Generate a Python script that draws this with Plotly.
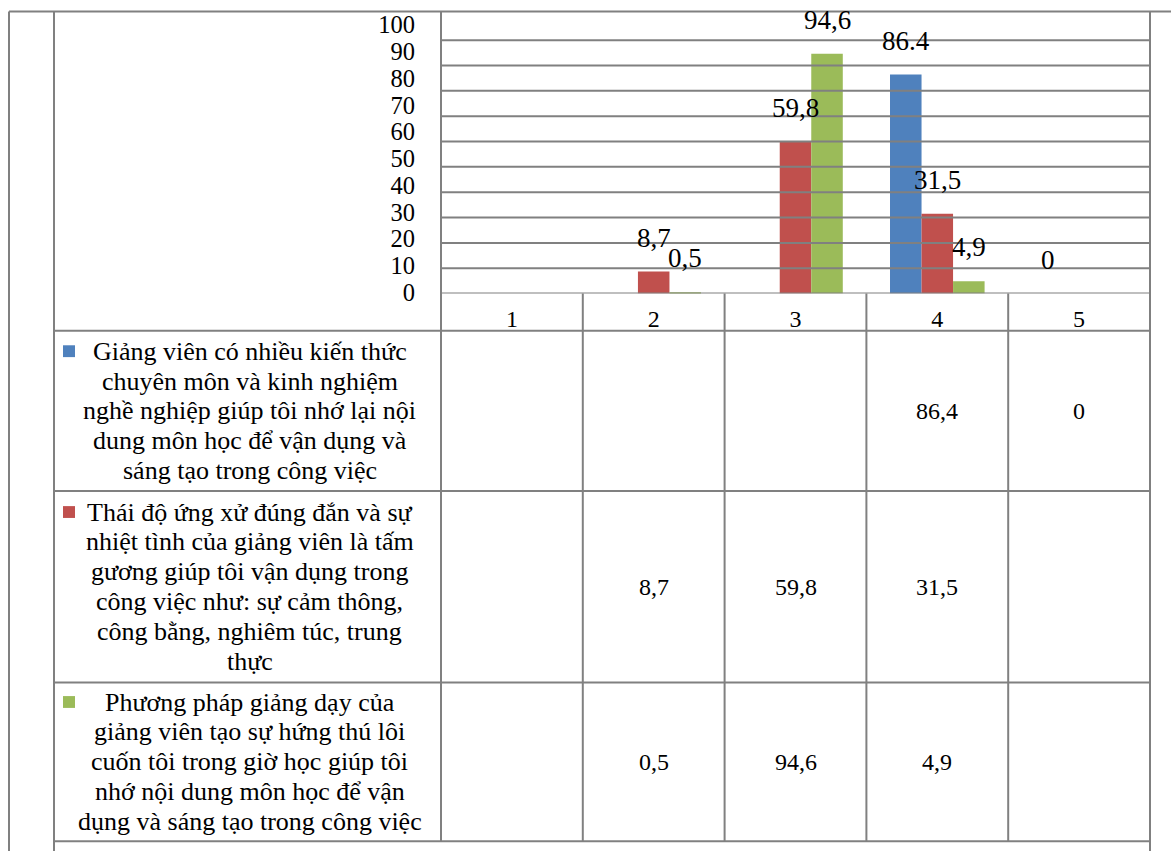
import plotly.graph_objects as go

# ---------------- data ----------------
categories = [1, 2, 3, 4, 5]
category_labels = ["1", "2", "3", "4", "5"]

series_lines = [
    ["Giảng viên có nhiều kiến thức",
     "chuyên môn và kinh nghiệm",
     "nghề nghiệp giúp tôi nhớ lại nội",
     "dung môn học để vận dụng và",
     "sáng tạo trong công việc"],
    ["Thái độ ứng xử đúng đắn và sự",
     "nhiệt tình của giảng viên là tấm",
     "gương giúp tôi vận dụng trong",
     "công việc như: sự cảm thông,",
     "công bằng, nghiêm túc, trung",
     "thực"],
    ["Phương pháp giảng dạy của",
     "giảng viên tạo sự hứng thú lôi",
     "cuốn tôi trong giờ học giúp tôi",
     "nhớ nội dung môn học để vận",
     "dụng và sáng tạo trong công việc"],
]

blue_values = [None, None, None, 86.4, 0]
red_values = [None, 8.7, 59.8, 31.5, None]
green_values = [None, 0.5, 94.6, 4.9, None]

y_ticks = [0, 10, 20, 30, 40, 50, 60, 70, 80, 90, 100]
y_tick_labels = ["0", "10", "20", "30", "40", "50", "60", "70", "80", "90", "100"]

# ---------------- style ----------------
series_values = [blue_values, red_values, green_values]
colors = ["#4F81BD", "#C0504D", "#9BBB59"]
label_decimal = [".", ",", ","]          # number format of the chart data labels
FONT = "Liberation Serif, Times New Roman, serif"
LINE = "#808080"
LW = 2

W, H = 1171, 863
PLOT_L, PLOT_R, PLOT_T, PLOT_B = 441, 1150, 11.7, 297.7
GRID_TOP_PX = 40.7                      # pixel row of the 100 gridline
ROW_EDGES = [PLOT_B, 335.5, 498, 692, 853]
TABLE_L, INNER_L = 9, 54
TEXT_CX = 250
LINE_H = 30.3
BARGAP = 0.333


def px(x):
    return x / W


def py(y):
    return 1 - y / H


y_top = 100 * (PLOT_B - PLOT_T) / (PLOT_B - GRID_TOP_PX)


def fmt(v, sep=","):
    s = f"{v:g}"
    return s.replace(".", sep)


fig = go.Figure()

for vals, col, lines in zip(series_values, colors, series_lines):
    fig.add_trace(go.Bar(
        x=categories, y=vals, name=" ".join(lines),
        marker=dict(color=col, line=dict(width=0)),
        showlegend=False, hoverinfo="x+y",
    ))

# dummy trace so the label axis is drawn
fig.add_trace(go.Scatter(x=[None], y=[None], yaxis="y2", showlegend=False, hoverinfo="skip"))

shapes = []
annotations = []


def hline(y0, x0, x1):
    shapes.append(dict(type="line", xref="paper", yref="paper", x0=px(x0), x1=px(x1),
                       y0=py(y0), y1=py(y0), line=dict(color=LINE, width=LW), layer="above"))


def vline(x0, y0, y1):
    shapes.append(dict(type="line", xref="paper", yref="paper", x0=px(x0), x1=px(x0),
                       y0=py(y0), y1=py(y1), line=dict(color=LINE, width=LW), layer="above"))


# gridlines over the bars (from the axis scale)
for v in y_ticks:
    shapes.append(dict(type="line", xref="paper", yref="y", x0=px(PLOT_L), x1=px(PLOT_R),
                       y0=v, y1=v, line=dict(color=LINE, width=LW), layer="above"))

# outer document table
hline(PLOT_T, TABLE_L, W)
vline(TABLE_L, PLOT_T, H)
vline(INNER_L, PLOT_T, H)
vline(PLOT_L, PLOT_T, ROW_EDGES[-1])
vline(PLOT_R, PLOT_T, H)

# data table rows
for y in ROW_EDGES[1:]:
    hline(y, INNER_L, PLOT_R)

# data table column separators (category boundaries on the x axis)
for c in categories[:-1]:
    shapes.append(dict(type="line", xref="x", yref="paper", x0=c + 0.5, x1=c + 0.5,
                       y0=py(PLOT_B), y1=py(ROW_EDGES[-1]),
                       line=dict(color=LINE, width=LW), layer="above"))

# legend keys + series names, and the table values
for s, (vals, col, lines) in enumerate(zip(series_values, colors, series_lines)):
    r0, r1 = ROW_EDGES[s + 1], ROW_EDGES[s + 2]
    rc = (r0 + r1) / 2
    n = len(lines)
    first_y = rc - (n - 1) / 2 * LINE_H
    for i, ln in enumerate(lines):
        annotations.append(dict(xref="paper", yref="paper", x=px(TEXT_CX), y=py(first_y + i * LINE_H),
                                text=ln, showarrow=False, xanchor="center", yanchor="middle",
                                font=dict(family=FONT, size=26, color="black")))
    k = 12
    shapes.append(dict(type="rect", xref="paper", yref="paper",
                       x0=px(63), x1=px(63 + k), y0=py(first_y - k / 2), y1=py(first_y + k / 2),
                       fillcolor=col, line=dict(width=0), layer="above"))
    for c, v in zip(categories, vals):
        if v is None:
            continue
        annotations.append(dict(xref="x", yref="paper", x=c, y=py(rc), text=fmt(v),
                                showarrow=False, xanchor="center", yanchor="middle",
                                font=dict(family=FONT, size=24, color="black")))

# bar data labels
nser = len(series_values)
bw = (1 - BARGAP) / nser
for s, vals in enumerate(series_values):
    off = (s - (nser - 1) / 2) * bw
    for c, v in zip(categories, vals):
        if v is None:
            continue
        annotations.append(dict(xref="x", yref="y", x=c + off, y=v, text=fmt(v, label_decimal[s]),
                                showarrow=False, xanchor="center", yanchor="middle", yshift=34,
                                font=dict(family=FONT, size=27, color="black")))

fig.update_layout(
    width=W, height=H,
    margin=dict(l=0, r=0, t=0, b=0),
    paper_bgcolor="white", plot_bgcolor="white",
    barmode="group", bargap=BARGAP, bargroupgap=0,
    font=dict(family=FONT, color="black"),
    xaxis=dict(domain=[px(PLOT_L), px(PLOT_R)], range=[0.5, 5.5], tickvals=categories,
               ticktext=category_labels, showgrid=False, zeroline=False, showline=False,
               ticks="outside", ticklen=4, tickcolor="rgba(0,0,0,0)",
               tickfont=dict(family=FONT, size=24, color="black"), fixedrange=True),
    yaxis=dict(domain=[py(PLOT_B), py(PLOT_T)], range=[0, y_top], showgrid=False,
               zeroline=False, showline=False, showticklabels=False, fixedrange=True),
    yaxis2=dict(overlaying="y", side="left", anchor="x", range=[-0.442, 104.9],
                tickvals=y_ticks, ticktext=y_tick_labels, showgrid=False, zeroline=False,
                showline=False, ticks="outside", ticklen=20, tickcolor="rgba(0,0,0,0)",
                tickfont=dict(family=FONT, size=24.5, color="black"), fixedrange=True),
    shapes=shapes,
    annotations=annotations,
    showlegend=False,
)

fig.write_html("out.html")
